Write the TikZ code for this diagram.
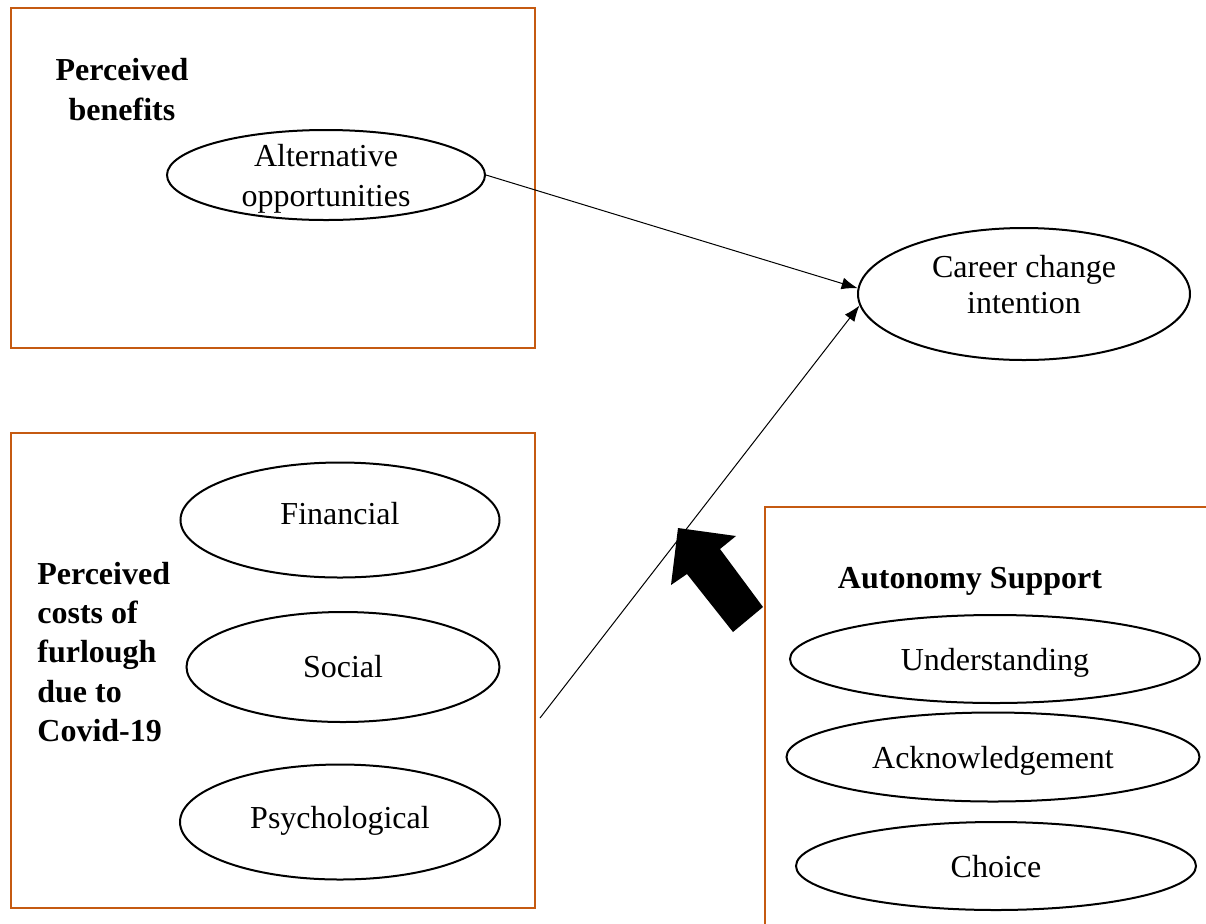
\documentclass[tikz,border=0pt]{standalone}
\usepackage{fontspec}
\setmainfont{Liberation Serif}
\usetikzlibrary{shapes.geometric,arrows.meta}
\definecolor{boxc}{RGB}{197,90,17}
\tikzset{
  frame/.style={draw=boxc, line width=1.3pt},
  oval/.style={draw, ellipse, line width=1pt, inner sep=0pt},
  txt/.style={align=center, inner sep=0pt},
  lbl/.style={font=\fontsize{16pt}{20pt}\selectfont\bfseries, align=center, inner sep=0pt},
  conn/.style={line width=0.5pt, -{Latex[length=8pt,width=6pt]}},
}
\begin{document}
\begin{tikzpicture}[x=0.5pt,y=-0.5pt,every node/.append style={font=\fontsize{16pt}{20pt}\selectfont}]
\clip (0,0) rectangle (1206,923);
\fill[white] (0,0) rectangle (1206,923);
% frames
\draw[frame] (11,8) rectangle (535,348);
\draw[frame] (11,433) rectangle (535,908);
\draw[frame] (765,507) rectangle (1230,950);
% labels
\node[lbl] (pb) at (122,90) {Perceived\\benefits};
\node[lbl, align=left, anchor=west, font=\fontsize{16pt}{19.7pt}\selectfont\bfseries] (pc) at (37,652) {Perceived\\costs of\\furlough\\due to\\Covid-19};
\node[lbl] (as) at (970,581) {Autonomy Support};
% ellipses
\node[oval, minimum width=159pt, minimum height=45pt] (alt) at (326,175) {};
\node[oval, minimum width=166pt, minimum height=66pt] (career) at (1024,294) {};
\node[oval, minimum width=159.5pt, minimum height=57.5pt] (fin) at (340,520) {};
\node[oval, minimum width=156.5pt, minimum height=55pt] (soc) at (343,667) {};
\node[oval, minimum width=160pt, minimum height=57.5pt] (psy) at (340,822) {};
\node[oval, minimum width=205pt, minimum height=44pt] (und) at (995,659) {};
\node[oval, minimum width=206.5pt, minimum height=44.5pt] (ack) at (993,757) {};
\node[oval, minimum width=200pt, minimum height=44pt] (cho) at (996,866) {};
% ellipse texts
\node[txt] (altt) at ([yshift=-2pt]alt.center) {Alternative\\opportunities};
\node[txt, font=\fontsize{16pt}{18pt}\selectfont] (careert) at ([yshift=4.5pt]career.center) {Career change\\intention};
\node[txt] (fint) at ([yshift=3pt]fin.center) {Financial};
\node[txt] (soct) at (soc.center) {Social};
\node[txt] (psyt) at ([yshift=0.5pt]psy.center) {Psychological};
\node[txt] (undt) at ([yshift=-2pt]und.center) {Understanding};
\node[txt] (ackt) at ([yshift=-2pt]ack.center) {Acknowledgement};
\node[txt] (chot) at ([yshift=-0.5pt]cho.center) {Choice};
% connectors
\coordinate (src) at (540,718);
\draw[conn] (alt.east) -- (career.178);
\draw[conn] (src) -- (career.184);
% block arrow
\fill[black] (678,528) -- (736,536) -- (720,549) -- (763,607) -- (733,632) -- (687,574) -- (671,585) -- cycle;
\end{tikzpicture}
\end{document}
